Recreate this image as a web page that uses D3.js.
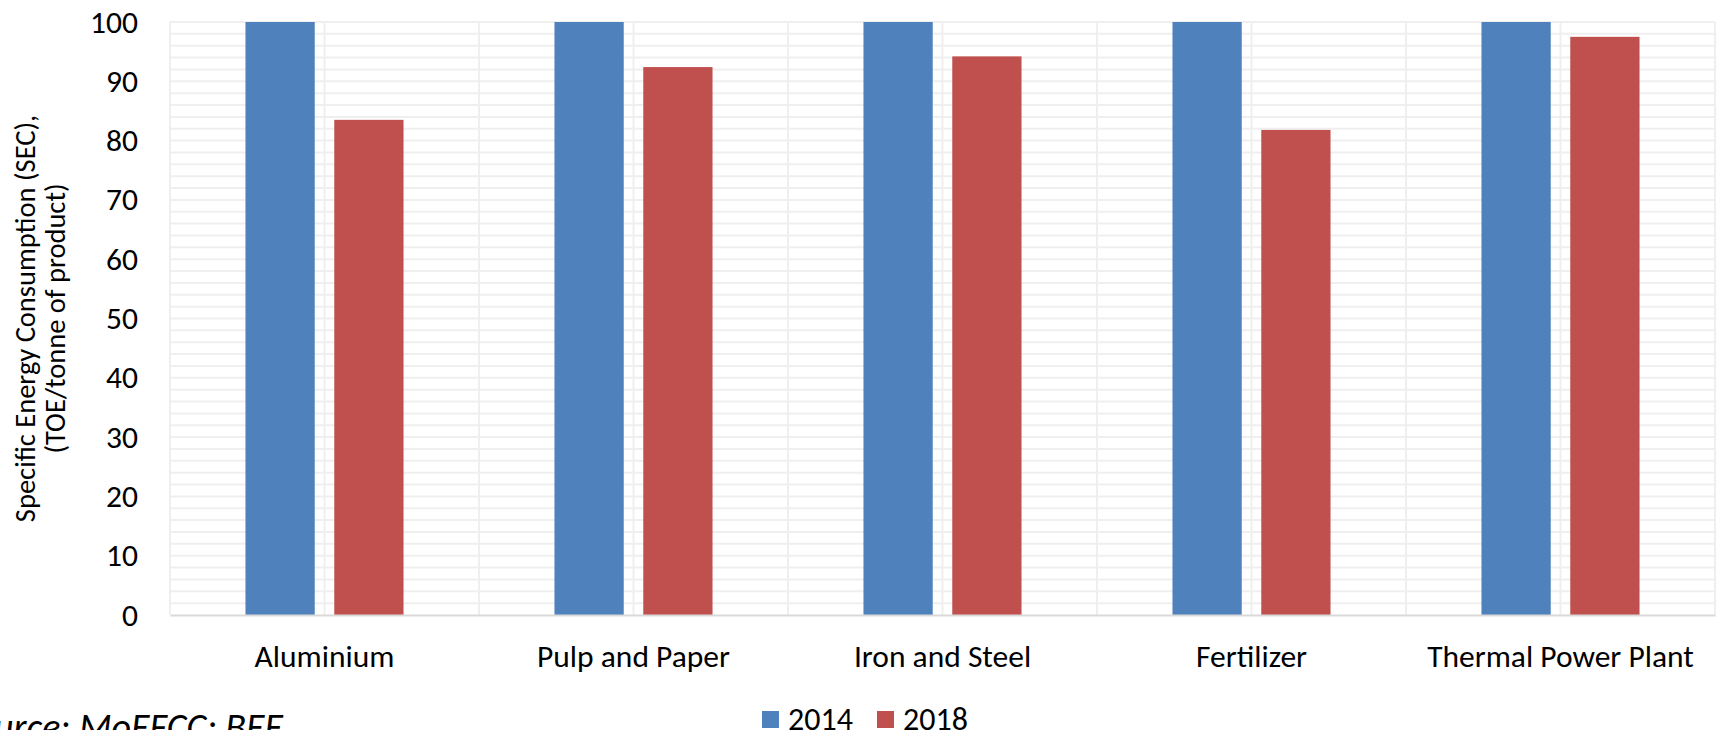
<!DOCTYPE html>
<html>
<head>
<meta charset="utf-8">
<script src="https://cdn.jsdelivr.net/npm/d3@7/dist/d3.min.js"></script>
<style>
  html, body { margin: 0; padding: 0; background: #ffffff; }
  svg { display: block; }
  text { font-family: Carlito, Calibri, Lato, "Open Sans", sans-serif; fill: #000; }
</style>
</head>
<body>
<svg id="chart" width="1721" height="730"></svg>
<script>
// Sectors and specific energy consumption, indexed per sector
const categories = ["Aluminium", "Pulp and Paper", "Iron and Steel", "Fertilizer", "Thermal Power Plant"];
const seriesNames = ["2014", "2018"];
const values2014 = [100, 100, 100, 100, 100];
const values2018 = [83.5, 92.4, 94.2, 81.8, 97.5];
const yTickValues = [0, 10, 20, 30, 40, 50, 60, 70, 80, 90, 100];
const seriesColors = ["#4F81BD", "#C0504D"];
const yTitleLines = ["Specific Energy Consumption (SEC),", "(TOE/tonne of product)"];
const sourceNote = "Source: MoEFCC; BEE";

const svg = d3.select("#chart");
const plot = { left: 170, right: 1715, top: 22, bottom: 615 };

const x0 = d3.scaleBand().domain(categories).range([plot.left, plot.right]).padding(0);
const x1 = d3.scaleBand().domain(seriesNames).range([0, x0.bandwidth()])
  .paddingInner(0.22).paddingOuter(0.85);
const y = d3.scaleLinear().domain([0, 100]).range([plot.bottom, plot.top]);

const rows = categories.map((c, i) => ({ cat: c, vals: [values2014[i], values2018[i]] }));

// Horizontal gridlines every 2 units
const grid = svg.append("g").attr("class", "grid");
grid.selectAll("line.h").data(y.ticks(50).filter(v => v > 0))
  .join("line").attr("class", "h")
  .attr("x1", plot.left).attr("x2", plot.right)
  .attr("y1", d => y(d)).attr("y2", d => y(d))
  .attr("stroke", "#EFEFEF").attr("stroke-width", 2);

// Vertical gridlines at category edges and centres
const vLines = [];
categories.forEach(c => { vLines.push(x0(c)); vLines.push(x0(c) + x0.bandwidth() / 2); });
vLines.push(plot.right);
grid.selectAll("line.v").data(vLines)
  .join("line").attr("class", "v")
  .attr("x1", d => d).attr("x2", d => d)
  .attr("y1", plot.top).attr("y2", plot.bottom)
  .attr("stroke", "#EFEFEF").attr("stroke-width", 2);

// Bars
const groups = svg.append("g").selectAll("g").data(rows).join("g")
  .attr("transform", d => `translate(${x0(d.cat)},0)`);
groups.selectAll("rect")
  .data(d => d.vals.map((v, k) => ({ key: seriesNames[k], v, k })))
  .join("rect")
  .attr("x", d => x1(d.key))
  .attr("width", x1.bandwidth())
  .attr("y", d => y(d.v))
  .attr("height", d => y(0) - y(d.v))
  .attr("fill", d => seriesColors[d.k]);

// Category axis
const xAxis = svg.append("g").attr("transform", `translate(0,${plot.bottom})`)
  .call(d3.axisBottom(x0).tickSize(0));
xAxis.select(".domain").attr("stroke", "#D9D9D9").attr("stroke-width", 2);
xAxis.selectAll("text").style("font-size", "31.5px").attr("y", 52).attr("dy", 0);

// Value axis
const yAxis = svg.append("g").attr("transform", `translate(${plot.left},0)`)
  .call(d3.axisLeft(y).tickValues(yTickValues).tickSize(0).tickPadding(32));
yAxis.select(".domain").remove();
yAxis.selectAll("text").style("font-size", "31.5px");

// Axis title
const yTitle = svg.append("text")
  .attr("transform", `translate(0,${(plot.top + plot.bottom) / 2}) rotate(-90)`)
  .attr("text-anchor", "middle")
  .style("font-size", "28.5px");
yTitle.selectAll("tspan").data(yTitleLines).join("tspan")
  .attr("x", 0).attr("y", (d, i) => 35 + i * 30)
  .text(d => d);

// Legend
const legend = svg.append("g").attr("transform", "translate(762,0)");
const legendItems = legend.selectAll("g").data(seriesNames).join("g")
  .attr("transform", (d, i) => `translate(${i * 115},0)`);
legendItems.append("rect").attr("x", 0).attr("y", 711).attr("width", 17).attr("height", 17)
  .attr("fill", (d, i) => seriesColors[i]);
legendItems.append("text").attr("x", 26).attr("y", 730).style("font-size", "32px").text(d => d);

// Source note
svg.append("text").attr("x", 283).attr("y", 740).attr("text-anchor", "end")
  .style("font-size", "38px").style("font-style", "italic").text(sourceNote);
</script>
</body>
</html>
